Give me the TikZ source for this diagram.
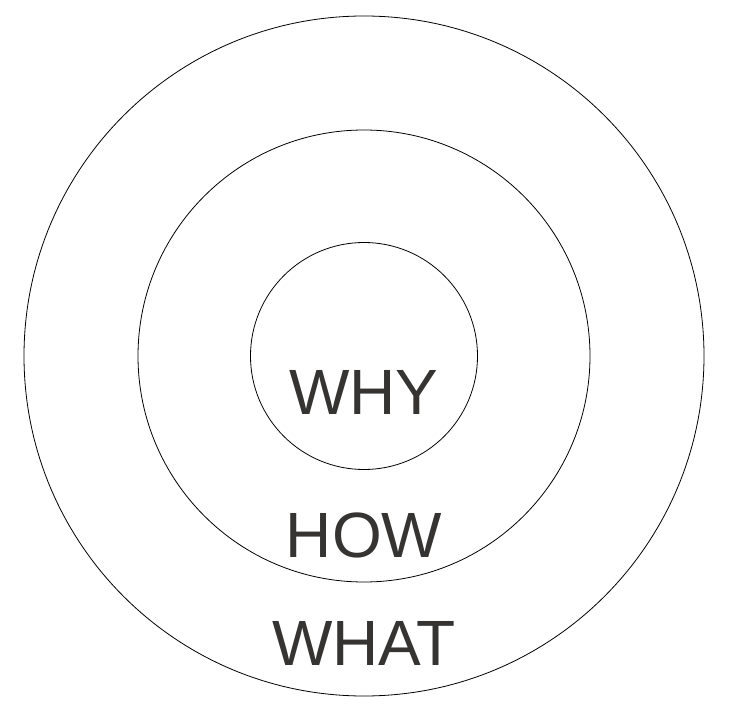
\documentclass[tikz,border=0pt]{standalone}
\usepackage{fontspec}
\setmainfont{Liberation Sans}
\definecolor{labelgray}{RGB}{54,52,50}

\begin{document}
\begin{tikzpicture}[x=1pt, y=-1pt,
		ring/.style={circle, draw, line width=0.8pt, inner sep=0pt, outer sep=0pt},
		word/.style={anchor=base, text=labelgray, inner sep=0pt, font=\fontsize{64}{64}\selectfont}]
	\useasboundingbox (0, 0) rectangle (737, 714);

	% circles
	\coordinate (centre) at (364, 356);
	\node[ring, minimum size=680pt] (outer) at (centre) {};
	\node[ring, minimum size=452pt] (middle) at (centre) {};
	\node[ring, minimum size=227pt] (inner) at (centre) {};

	% labels
	\node[word] (why) at (364, 414) {WHY};
	\node[word] (how) at (364, 557) {HOW};
	\node[word] (what) at (364, 665) {WHAT};
\end{tikzpicture}
\end{document}
